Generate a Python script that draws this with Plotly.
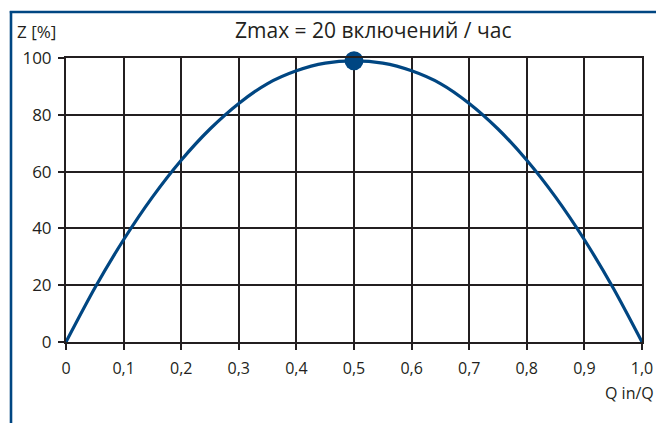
import plotly.graph_objects as go

# Relative inflow Qin/Q and permissible switching frequency Z [%]
q_ratio = [0.0, 0.05, 0.10, 0.15, 0.20, 0.25, 0.30, 0.35, 0.40, 0.45, 0.50,
           0.55, 0.60, 0.65, 0.70, 0.75, 0.80, 0.85, 0.90, 0.95, 1.0]
z_percent = [0, 19, 36, 51, 64, 75, 84, 91, 95.5, 98.2, 99,
             98.2, 95.5, 91, 84, 75, 64, 51, 36, 19, 0]

peak_q = [0.5]
peak_z = [99]

x_tick_vals = [0, 0.1, 0.2, 0.3, 0.4, 0.5, 0.6, 0.7, 0.8, 0.9, 1.0]
x_tick_text = ["0", "0,1", "0,2", "0,3", "0,4", "0,5", "0,6", "0,7", "0,8", "0,9", "1,0"]
y_tick_vals = [0, 20, 40, 60, 80, 100]

W, H = 656, 423
L, R, T, B = 65.7, 641.7, 58, 342  # plot area in pixels

BLUE = "#004682"
INK = "#231f20"
FONT = "Open Sans"


def px_x(p):
    return (p - L) / (R - L)


def px_y(p):
    return (B - p) / (B - T)


fig = go.Figure()

fig.add_trace(go.Scatter(
    x=q_ratio, y=z_percent, mode="lines",
    line=dict(color=BLUE, width=3.2, shape="spline", smoothing=0.8),
    cliponaxis=False, hoverinfo="skip",
))
fig.add_trace(go.Scatter(
    x=peak_q, y=peak_z, mode="markers",
    marker=dict(color=BLUE, size=19),
    cliponaxis=False, hoverinfo="skip",
))

axis_common = dict(
    showgrid=True, gridcolor=INK, gridwidth=2,
    showline=True, linecolor=INK, linewidth=2, mirror=True,
    zeroline=False, automargin=False,
    ticks="outside", ticklen=6, tickwidth=2, tickcolor=INK,
)

fig.update_xaxes(range=[0, 1], tickvals=x_tick_vals, ticktext=x_tick_text,
                 ticklabelstandoff=5,
                 tickfont=dict(family=FONT, size=16, color=INK), **axis_common)
fig.update_yaxes(range=[0, 100], tickvals=y_tick_vals,
                 ticklabelstandoff=3,
                 tickfont=dict(family=FONT, size=17, color=INK), **axis_common)

# Frame lines along the top and left edges of the figure
fig.add_shape(type="line", xref="paper", yref="paper",
              x0=px_x(9.5), x1=px_x(W + 5), y0=px_y(12), y1=px_y(12),
              line=dict(color=BLUE, width=2.6))
fig.add_shape(type="line", xref="paper", yref="paper",
              x0=px_x(10.7), x1=px_x(10.7), y0=px_y(11), y1=px_y(H + 5),
              line=dict(color=BLUE, width=2.6))

fig.add_annotation(text="Zmax = 20 включений / час", xref="paper", yref="paper",
                   x=px_x(373), y=px_y(30), xanchor="center", yanchor="middle",
                   showarrow=False, font=dict(family=FONT, size=21, color=INK))
fig.add_annotation(text="Z [%]", xref="paper", yref="paper",
                   x=px_x(15), y=px_y(31), xanchor="left", yanchor="middle",
                   showarrow=False, font=dict(family=FONT, size=17, color=INK))
fig.add_annotation(text="Q in/Q", xref="paper", yref="paper",
                   x=px_x(603), y=px_y(393), xanchor="left", yanchor="middle",
                   showarrow=False, font=dict(family=FONT, size=16, color=INK))

fig.update_layout(
    width=W, height=H,
    margin=dict(l=L, r=W - R, t=T, b=H - B, pad=0),
    paper_bgcolor="white", plot_bgcolor="white",
    showlegend=False,
)

fig.write_html("out.html")
